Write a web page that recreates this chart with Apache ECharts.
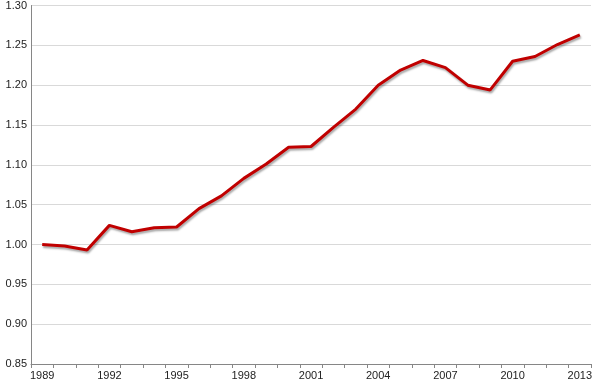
<!DOCTYPE html>
<html>
<head>
<meta charset="utf-8">
<script src="https://cdn.jsdelivr.net/npm/echarts@6/dist/echarts.min.js"></script>
<style>
  html, body { margin: 0; padding: 0; background: #fff; }
  #chart { width: 595px; height: 382px; }
</style>
</head>
<body>
<div id="chart"></div>
<script>
// years on the x axis
var years = ['1989', '1990', '1991', '1992', '1993', '1994', '1995', '1996', '1997', '1998',
  '1999', '2000', '2001', '2002', '2003', '2004', '2005', '2006', '2007', '2008',
  '2009', '2010', '2011', '2012', '2013']
// index values
var values = [1.000, 0.998, 0.993, 1.024, 1.016, 1.021, 1.022, 1.045, 1.061, 1.083,
  1.101, 1.122, 1.123, 1.147, 1.170, 1.200, 1.219, 1.231, 1.222, 1.200,
  1.194, 1.230, 1.236, 1.251, 1.263]

var chart = echarts.init(document.getElementById('chart'))
chart.setOption({
  animation: false,
  grid: {
    left: 31,
    right: 1,
    top: 3,
    bottom: 18
  },
  xAxis: {
    type: 'category',
    data: years,
    boundaryGap: true,
    axisLine: { lineStyle: { color: '#868686', width: 1 } },
    axisTick: {
      show: true,
      alignWithLabel: false,
      interval: 0,
      length: 4,
      lineStyle: { color: '#868686' }
    },
    axisLabel: {
      interval: 2,
      color: '#222',
      fontFamily: 'Liberation Sans',
      fontSize: 11,
      margin: 6
    },
    splitLine: { show: false }
  },
  yAxis: {
    type: 'value',
    min: 0.85,
    max: 1.30,
    interval: 0.05,
    axisLine: { show: true, lineStyle: { color: '#868686', width: 1 } },
    axisTick: { show: false },
    axisLabel: {
      color: '#222',
      fontFamily: 'Liberation Sans',
      fontSize: 11,
      margin: 4,
      formatter: function (v) { return v.toFixed(2) }
    },
    splitLine: { lineStyle: { color: '#d9d9d9', width: 1 } }
  },
  series: [{
    type: 'line',
    data: values,
    symbol: 'none',
    smooth: false,
    lineStyle: {
      color: '#c00000',
      width: 3,
      shadowColor: 'rgba(0,0,0,0.35)',
      shadowBlur: 2,
      shadowOffsetX: 1,
      shadowOffsetY: 2
    }
  }]
})
</script>
</body>
</html>
